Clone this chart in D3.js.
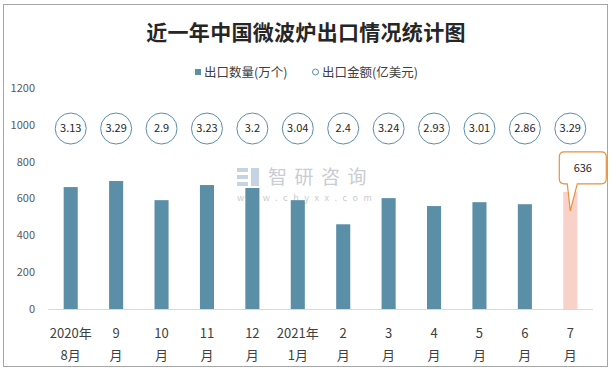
<!DOCTYPE html>
<html>
<head>
<meta charset="utf-8">
<script src="https://cdn.jsdelivr.net/npm/d3@7"></script>
<style>
  body { margin: 0; background: #fff; }
  svg { display: block; font-family: "Noto Sans CJK SC", "Noto Sans", sans-serif; }
</style>
</head>
<body>
<div class="chart"></div>
<script>
const months = ["2020年\n8月", "9\n月", "10\n月", "11\n月", "12\n月", "2021年\n1月", "2\n月", "3\n月", "4\n月", "5\n月", "6\n月", "7\n月"];
const quantity = [662, 695, 591, 673, 657, 591, 460, 602, 559, 580, 569, 636];
const amount = [3.13, 3.29, 2.9, 3.23, 3.2, 3.04, 2.4, 3.24, 2.93, 3.01, 2.86, 3.29];
const yTicks = [0, 200, 400, 600, 800, 1000, 1200];
const bubbleLevel = 980; // the amount circles sit in one row near the top

const W = 612, H = 371;
const margin = { top: 88, right: 19, bottom: 62, left: 48 };
const width = W - margin.left - margin.right;
const height = H - margin.top - margin.bottom;

const x = d3.scaleBand()
  .domain(months)
  .range([0, width])
  .paddingInner(0.69)
  .paddingOuter(0.345);

const y = d3.scaleLinear()
  .domain([0, 1200])
  .range([height, 0]);

const svg = d3.select(".chart").append("svg")
  .attr("width", W)
  .attr("height", H);

// outer frame
svg.append("rect")
  .attr("x", 3.5).attr("y", 4.5)
  .attr("width", 604).attr("height", 362)
  .attr("fill", "#fff")
  .attr("stroke", "#a6a6a6");

svg.append("text")
  .attr("x", 306).attr("y", 40)
  .attr("text-anchor", "middle")
  .attr("font-size", 21)
  .attr("font-weight", "bold")
  .attr("letter-spacing", 0.3)
  .attr("fill", "#262626")
  .text("近一年中国微波炉出口情况统计图");

// legend
const legend = svg.append("g").attr("font-size", 12.5).attr("fill", "#404040");
legend.append("rect")
  .attr("x", 195).attr("y", 69).attr("width", 6).attr("height", 6)
  .attr("fill", "#5b8fa8");
legend.append("text").attr("x", 204).attr("y", 76.5).text("出口数量(万个)");
legend.append("circle")
  .attr("cx", 315.5).attr("cy", 72).attr("r", 3)
  .attr("fill", "none").attr("stroke", "#5b8fa8");
legend.append("text").attr("x", 322).attr("y", 76.5).text("出口金额(亿美元)");

const g = svg.append("g")
  .attr("transform", `translate(${margin.left},${margin.top})`);

// watermark
const wm = g.append("g").attr("fill", "#c9ccd1");
wm.append("rect").attr("x", 189).attr("y", 80).attr("width", 11).attr("height", 4).attr("fill", "#c5d3e3");
wm.append("rect").attr("x", 189).attr("y", 87).attr("width", 11).attr("height", 4).attr("fill", "#c5d3e3");
wm.append("rect").attr("x", 189).attr("y", 94).attr("width", 11).attr("height", 4).attr("fill", "#c5d3e3");
wm.append("rect").attr("x", 203).attr("y", 80).attr("width", 8).attr("height", 18).attr("fill", "#c5d3e3");
wm.append("text").attr("x", 220).attr("y", 96)
  .attr("font-size", 19).attr("letter-spacing", 7.5).text("智研咨询");
wm.append("text").attr("x", 189).attr("y", 113)
  .attr("font-size", 9).attr("letter-spacing", 5.6).text("www.chyxx.com");

// y axis labels
g.append("g")
  .selectAll("text")
  .data(yTicks)
  .join("text")
  .attr("x", -13)
  .attr("y", d => y(d))
  .attr("dy", "0.35em")
  .attr("text-anchor", "end")
  .attr("font-size", 11)
  .attr("fill", "#595959")
  .text(d => d);

// bars
g.append("g")
  .selectAll("rect")
  .data(quantity)
  .join("rect")
  .attr("x", (d, i) => x(months[i]))
  .attr("y", d => y(d))
  .attr("width", x.bandwidth())
  .attr("height", d => height - y(d))
  .attr("fill", (d, i) => i === quantity.length - 1 ? "#f8d2c9" : "#5b8fa8");

// baseline
g.append("line")
  .attr("x1", 0).attr("x2", width)
  .attr("y1", height + 0.5).attr("y2", height + 0.5)
  .attr("stroke", "#d9d9d9");

// amount bubbles
const bubbles = g.append("g")
  .selectAll("g")
  .data(amount)
  .join("g")
  .attr("transform", (d, i) => `translate(${x(months[i]) + x.bandwidth() / 2},${y(bubbleLevel)})`);
bubbles.append("circle")
  .attr("r", 15.5)
  .attr("fill", "#fff")
  .attr("stroke", "#5b8fa8");
bubbles.append("text")
  .attr("text-anchor", "middle")
  .attr("dy", "0.36em")
  .attr("font-size", 11)
  .attr("fill", "#262626")
  .text(d => d);

// callout for the latest month
const last = quantity.length - 1;
const cx = x(months[last]) + x.bandwidth() / 2;
const tipY = y(quantity[last]) + 19;
const bx0 = cx - 11, bx1 = cx + 36, by0 = tipY - 59, by1 = tipY - 27, r = 5;
const callout = d3.path();
callout.moveTo(bx0 + r, by0);
callout.lineTo(bx1 - r, by0);
callout.quadraticCurveTo(bx1, by0, bx1, by0 + r);
callout.lineTo(bx1, by1 - r);
callout.quadraticCurveTo(bx1, by1, bx1 - r, by1);
callout.lineTo(cx + 7, by1);
callout.lineTo(cx, tipY);
callout.lineTo(cx - 3, by1);
callout.lineTo(bx0 + r, by1);
callout.quadraticCurveTo(bx0, by1, bx0, by1 - r);
callout.lineTo(bx0, by0 + r);
callout.quadraticCurveTo(bx0, by0, bx0 + r, by0);
callout.closePath();
g.append("path")
  .attr("d", callout.toString())
  .attr("fill", "#fff")
  .attr("stroke", "#e8913a")
  .attr("stroke-width", 1.2);
g.append("text")
  .attr("x", (bx0 + bx1) / 2)
  .attr("y", (by0 + by1) / 2)
  .attr("dy", "0.36em")
  .attr("text-anchor", "middle")
  .attr("font-size", 11)
  .attr("fill", "#262626")
  .text(quantity[last]);

// x labels
const xl = g.append("g")
  .selectAll("text")
  .data(months)
  .join("text")
  .attr("x", d => x(d) + x.bandwidth() / 2)
  .attr("y", height + 29)
  .attr("text-anchor", "middle")
  .attr("font-size", 13)
  .attr("fill", "#404040");
xl.selectAll("tspan")
  .data(d => d.split("\n"))
  .join("tspan")
  .attr("x", function () { return d3.select(this.parentNode).attr("x"); })
  .attr("dy", (d, i) => i === 0 ? 0 : 22)
  .text(d => d);
</script>
</body>
</html>
